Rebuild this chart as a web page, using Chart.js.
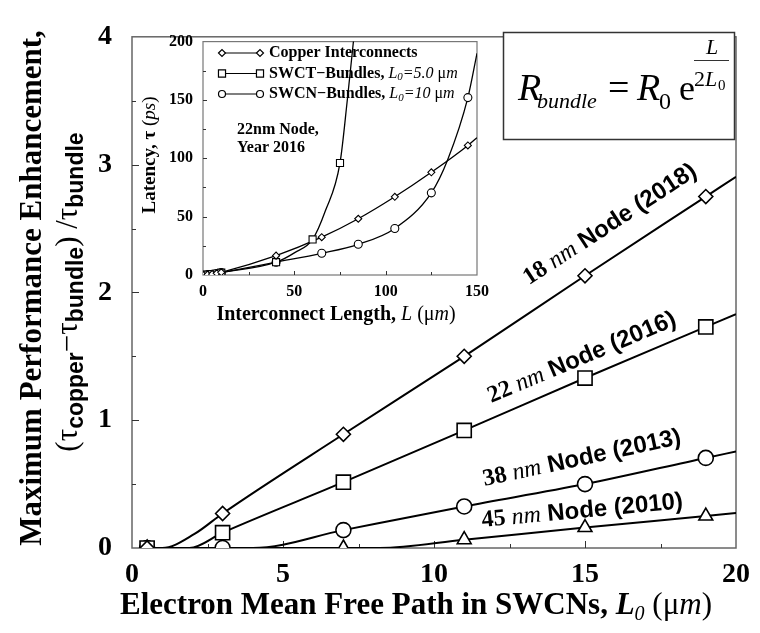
<!DOCTYPE html>
<html>
<head>
<meta charset="utf-8">
<script src="https://cdn.jsdelivr.net/npm/chart.js@4.4.0/dist/chart.umd.min.js"></script>
<style>
  body { margin: 0; background: #fff; }
  #wrap { position: relative; width: 760px; height: 633px; }
  #wrap canvas { position: absolute; }
</style>
</head>
<body>
<div id="wrap">
  <canvas id="mainChart" width="760" height="633" style="left:0;top:0"></canvas>
  <canvas id="insetChart" width="362" height="312" style="left:134px;top:22px"></canvas>
</div>
<script>
// ---- main plot: enhancement vs. mean free path ----
var meanFreePath = [0.5, 3, 7, 11, 15, 19];
var gain18 = [0, 0.27, 0.89, 1.50, 2.13, 2.75];
var gain22 = [0, 0.12, 0.515, 0.92, 1.33, 1.73];
var gain38 = [0, 0, 0.14, 0.325, 0.50, 0.705];
var gain45 = [0, 0, 0, 0.065, 0.16, 0.25];

// model curves traced through the points
var fit18 = [[0.5, 0], [1.0, 0], [2.07, 0.11], [3, 0.27], [7, 0.89], [11, 1.50], [15, 2.13], [19, 2.75], [20, 2.905]];
var fit22 = [[0.5, 0], [1.9, 0], [3, 0.12], [7, 0.515], [11, 0.92], [15, 1.33], [19, 1.73], [20, 1.83]];
var fit38 = [[0.5, 0], [4, 0], [7, 0.14], [11, 0.325], [15, 0.50], [19, 0.705], [20, 0.755]];
var fit45 = [[0.5, 0], [8.2, 0], [11, 0.065], [15, 0.16], [19, 0.25], [20, 0.273]];

var nodeSizes = ['18', '22', '38', '45'];
var nodeYears = ['2018', '2016', '2013', '2010'];
var nodeLabelAt = [[15.83, 2.53], [14.9, 1.488], [14.9, 0.70], [14.91, 0.288]];

var xTicks = [0, 5, 10, 15, 20];
var yTicks = [0, 1, 2, 3, 4];

// ---- inset: latency vs. interconnect length (22nm node) ----
var wireLen = [0, 2.5, 5, 7.5, 10, 40, 65, 85, 105, 125, 145];
var copperDelay = [0, 0.3, 0.8, 1.5, 2.3, 16.6, 32.4, 48.2, 67, 88, 111];
var swcnDelay = [0, 0.3, 0.7, 1.3, 2.0, 11, 18.6, 26.3, 39.9, 70.4, 152];
var swctLen = [0, 2.5, 5, 7.5, 10, 40, 60, 75];
var swctDelay = [0, 0.3, 0.7, 1.3, 2.0, 11, 30.5, 96];
var copperTail = [[150, 117.7]];
var swcnTail = [[134, 99], [150, 190]];
var swctTail = [[50, 19], [67, 55], [79, 150], [83, 210]];

var SERIF = "'Liberation Serif', 'Times New Roman', serif";
var SANS = "'Liberation Sans', Arial, sans-serif";
function f(style, size, family) { return style + ' ' + size + 'px ' + family; }

function toXY(xs, ys) {
    return xs.map(function(x, i) { return {x: x, y: ys[i]}; });
}
function pairs(list) {
    return list.map(function(p) { return {x: p[0], y: p[1]}; });
}
function curveOf(xs, ys, extra) {
    return toXY(xs, ys).concat(pairs(extra)).sort(function(a, b) { return a.x - b.x; });
}

// draw a row of differently styled text pieces: [text, font, dy]
function drawRuns(ctx, runs, x, y, align) {
    var w = 0;
    runs.forEach(function(r) { ctx.font = r[1]; w += ctx.measureText(r[0]).width; });
    var cx = align === 'left' ? x : x - w / 2;
    runs.forEach(function(r) {
        ctx.font = r[1];
        ctx.fillText(r[0], cx, y + (r[2] || 0));
        cx += ctx.measureText(r[0]).width;
    });
    return w;
}

// box round the plot area, ticks pointing inwards on bottom and left
function drawFrame(chart, o) {
    var ctx = chart.ctx, a = chart.chartArea, x = chart.scales.x, y = chart.scales.y;
    ctx.save();
    ctx.strokeStyle = o.color;
    ctx.lineWidth = o.width;
    ctx.strokeRect(a.left, a.top, a.right - a.left, a.bottom - a.top);
    ctx.lineWidth = 1;
    ctx.strokeStyle = '#333';
    var n = Math.round((x.max - x.min) / o.xMinor), i, v, p, len;
    for (i = 1; i < n; i++) {
        v = x.min + i * o.xMinor;
        p = Math.round(x.getPixelForValue(v)) + 0.5;
        len = (Math.abs(v / o.xMajor - Math.round(v / o.xMajor)) < 1e-6) ? o.major : o.minor;
        ctx.beginPath(); ctx.moveTo(p, a.bottom); ctx.lineTo(p, a.bottom - len); ctx.stroke();
    }
    n = Math.round((y.max - y.min) / o.yMinor);
    for (i = 1; i < n; i++) {
        v = y.min + i * o.yMinor;
        p = Math.round(y.getPixelForValue(v)) + 0.5;
        len = (Math.abs(v / o.yMajor - Math.round(v / o.yMajor)) < 1e-6) ? o.major : o.minor;
        ctx.beginPath(); ctx.moveTo(a.left, p); ctx.lineTo(a.left + len, p); ctx.stroke();
    }
    ctx.restore();
}

var mainDecor = {
    id: 'mainDecor',
    beforeDatasetsDraw: function(chart) {
        drawFrame(chart, {xMajor: 5, xMinor: 2.5, yMajor: 1, yMinor: 0.5, major: 7, minor: 4, color: '#666', width: 1.5});
    },
    afterDraw: function(chart) {
        var ctx = chart.ctx, sx = chart.scales.x, sy = chart.scales.y;
        ctx.save();
        ctx.fillStyle = '#000';
        ctx.textAlign = 'left';
        ctx.textBaseline = 'alphabetic';

        // x title
        drawRuns(ctx, [
            ['Electron Mean Free Path in SWCNs, ', f('bold', 31, SERIF)],
            ['L', f('italic bold', 31, SERIF)],
            ['0', f('italic', 20, SERIF), 6],
            [' (', f('normal', 31, SERIF)],
            ['\u03bc', f('normal', 31, SERIF)],
            ['m', f('italic', 31, SERIF)],
            [')', f('normal', 31, SERIF)]
        ], 416, 614);

        // y title, two lines
        ctx.save();
        ctx.translate(41, 288);
        ctx.rotate(-Math.PI / 2);
        drawRuns(ctx, [['Maximum Performance Enhancement,', f('bold', 31, SERIF)]], 0, 0);
        ctx.restore();
        ctx.save();
        ctx.translate(77, 292);
        ctx.rotate(-Math.PI / 2);
        drawRuns(ctx, [
            ['(\u03c4', f('normal', 31, SERIF)],
            ['copper', f('bold', 23, SANS), 6],
            ['\u2212\u03c4', f('normal', 31, SERIF)],
            ['bundle', f('bold', 23, SANS), 6],
            [') /\u03c4', f('normal', 31, SERIF)],
            ['bundle', f('bold', 23, SANS), 6]
        ], 0, 0);
        ctx.restore();

        // node labels along each curve
        var fits = [fit18, fit22, fit38, fit45];
        ctx.textBaseline = 'middle';
        nodeSizes.forEach(function(size, k) {
            var c = fits[k], p1 = c[c.length - 3], p2 = c[c.length - 1];
            var dx = sx.getPixelForValue(p2[0]) - sx.getPixelForValue(p1[0]);
            var dy = sy.getPixelForValue(p2[1]) - sy.getPixelForValue(p1[1]);
            ctx.save();
            ctx.translate(sx.getPixelForValue(nodeLabelAt[k][0]), sy.getPixelForValue(nodeLabelAt[k][1]));
            ctx.rotate(Math.atan2(dy, dx));
            drawRuns(ctx, [
                [size + ' ', f('bold', 24, SERIF)],
                ['nm', f('italic', 24, SERIF)],
                [' Node (' + nodeYears[k] + ')', f('bold', 24, SANS)]
            ], 0, 0);
            ctx.restore();
        });

        // resistance formula box
        ctx.textBaseline = 'alphabetic';
        ctx.fillStyle = '#fff';
        ctx.fillRect(503, 32, 231, 107);
        ctx.strokeStyle = '#333';
        ctx.lineWidth = 1.5;
        ctx.strokeRect(503.5, 32.5, 231, 107);
        ctx.fillStyle = '#000';
        ctx.font = f('italic', 38, SERIF); ctx.fillText('R', 518, 100);
        ctx.font = f('italic', 22, SERIF); ctx.fillText('bundle', 537, 108);
        ctx.font = f('normal', 38, SERIF); ctx.fillText('=', 608, 100);
        ctx.font = f('italic', 38, SERIF); ctx.fillText('R', 637, 100);
        ctx.font = f('normal', 24, SERIF); ctx.fillText('0', 659, 109);
        ctx.font = f('normal', 36, SERIF); ctx.fillText('e', 679, 100);
        ctx.textAlign = 'center';
        ctx.font = f('italic', 22, SERIF); ctx.fillText('L', 712, 54);
        ctx.textAlign = 'left';
        ctx.beginPath(); ctx.lineWidth = 1.2; ctx.moveTo(694, 60.5); ctx.lineTo(729, 60.5); ctx.stroke();
        ctx.font = f('normal', 22, SERIF); ctx.fillText('2', 694, 86);
        ctx.font = f('italic', 22, SERIF); ctx.fillText('L', 705, 86);
        ctx.font = f('normal', 15, SERIF); ctx.fillText('0', 718, 90);
        ctx.restore();
    }
};

function markers(xs, ys, style, r) {
    return {
        data: toXY(xs, ys), showLine: false, order: 0,
        pointStyle: style, pointRadius: r, pointBorderWidth: 1.6,
        pointBackgroundColor: '#fff', pointBorderColor: '#000'
    };
}
function curve(pts, w) {
    return {
        data: pts, showLine: true, order: 1, pointRadius: 0,
        borderColor: '#000', borderWidth: w, cubicInterpolationMode: 'monotone'
    };
}

var tickFont = {family: SERIF, size: 28, weight: 'bold'};
var mainChart = new Chart(document.getElementById('mainChart'), {
    type: 'scatter',
    data: {
        datasets: [
            curve(pairs(fit18), 2), curve(pairs(fit22), 2), curve(pairs(fit38), 2), curve(pairs(fit45), 2),
            markers(meanFreePath, gain18, 'rectRot', 7),
            markers(meanFreePath, gain22, 'rect', 10),
            markers(meanFreePath, gain38, 'circle', 7.5),
            markers(meanFreePath, gain45, 'triangle', 8)
        ]
    },
    options: {
        responsive: false,
        animation: false,
        layout: {padding: {left: 0, top: 21, right: 19, bottom: 0}},
        plugins: {legend: {display: false}, tooltip: {enabled: false}},
        scales: {
            x: {
                type: 'linear', min: 0, max: 20,
                afterBuildTicks: function(s) { s.ticks = xTicks.map(function(v) { return {value: v}; }); },
                ticks: {font: tickFont, color: '#000', padding: 10, maxRotation: 0},
                grid: {display: false, drawTicks: false}, border: {display: false},
                afterFit: function(s) { s.height = 85; }
            },
            y: {
                type: 'linear', min: 0, max: 4,
                afterBuildTicks: function(s) { s.ticks = yTicks.map(function(v) { return {value: v}; }); },
                ticks: {font: tickFont, color: '#000', padding: 20},
                grid: {display: false, drawTicks: false}, border: {display: false},
                afterFit: function(s) { s.width = 132; }
            }
        }
    },
    plugins: [mainDecor]
});

// ---- inset chart ----
var insetDecor = {
    id: 'insetDecor',
    beforeDatasetsDraw: function(chart) {
        drawFrame(chart, {xMajor: 50, xMinor: 25, yMajor: 50, yMinor: 25, major: 4, minor: 3, color: '#777', width: 1.2});
    },
    afterDraw: function(chart) {
        var ctx = chart.ctx, a = chart.chartArea;
        ctx.save();
        ctx.fillStyle = '#000';
        ctx.textAlign = 'left';
        ctx.textBaseline = 'alphabetic';
        drawRuns(ctx, [
            ['Interconnect Length, ', f('bold', 20, SERIF)],
            ['L', f('italic', 20, SERIF)],
            [' (', f('normal', 20, SERIF)],
            ['\u03bc', f('normal', 20, SERIF)],
            ['m', f('italic', 20, SERIF)],
            [')', f('normal', 20, SERIF)]
        ], (a.left + a.right) / 2 - 4, 298);

        ctx.save();
        ctx.translate(21, 133);
        ctx.rotate(-Math.PI / 2);
        drawRuns(ctx, [
            ['Latency, \u03c4 ', f('bold', 19, SERIF)],
            ['(', f('normal', 19, SERIF)],
            ['ps', f('italic', 19, SERIF)],
            [')', f('normal', 19, SERIF)]
        ], 0, 0);
        ctx.restore();

        // legend
        var rows = [
            {style: 'rectRot', r: 3.5, runs: [['Copper Interconnects', f('bold', 16, SERIF)]]},
            {style: 'rect', r: 5, runs: [['SWCT\u2212Bundles, ', f('bold', 16, SERIF)], ['L', f('italic', 16, SERIF)], ['0', f('italic', 11, SERIF), 4], ['=5.0 ', f('italic', 16, SERIF)], ['\u03bc', f('normal', 16, SERIF)], ['m', f('italic', 16, SERIF)]]},
            {style: 'circle', r: 3.5, runs: [['SWCN\u2212Bundles, ', f('bold', 16, SERIF)], ['L', f('italic', 16, SERIF)], ['0', f('italic', 11, SERIF), 4], ['=10 ', f('italic', 16, SERIF)], ['\u03bc', f('normal', 16, SERIF)], ['m', f('italic', 16, SERIF)]]}
        ];
        ctx.textBaseline = 'middle';
        rows.forEach(function(row, i) {
            var yy = 31 + i * 20.5;
            ctx.strokeStyle = '#000';
            ctx.lineWidth = 1.2;
            ctx.beginPath(); ctx.moveTo(88, yy); ctx.lineTo(126, yy); ctx.stroke();
            ctx.fillStyle = '#fff';
            Chart.helpers.drawPoint(ctx, {pointStyle: row.style, radius: row.r, borderWidth: 1.2}, 88, yy);
            Chart.helpers.drawPoint(ctx, {pointStyle: row.style, radius: row.r, borderWidth: 1.2}, 126, yy);
            ctx.fillStyle = '#000';
            drawRuns(ctx, row.runs, 135, yy, 'left');
        });
        ctx.font = f('bold', 16, SERIF);
        ctx.fillText('22nm Node,', 103, 108);
        ctx.fillText('Year 2016', 103, 126);
        ctx.restore();
    }
};

function smallMarkers(xs, ys, style, r) {
    return {
        data: toXY(xs, ys), showLine: false, order: 0,
        pointStyle: style, pointRadius: r, pointBorderWidth: 1.1,
        pointBackgroundColor: '#fff', pointBorderColor: '#000'
    };
}

var insetFont = {family: SERIF, size: 16, weight: 'bold'};
var insetChart = new Chart(document.getElementById('insetChart'), {
    type: 'scatter',
    data: {
        datasets: [
            curve(curveOf(wireLen, copperDelay, copperTail), 1.3),
            curve(curveOf(swctLen, swctDelay, swctTail), 1.3),
            curve(curveOf(wireLen, swcnDelay, swcnTail), 1.3),
            smallMarkers(wireLen, copperDelay, 'rectRot', 3.5),
            smallMarkers(swctLen, swctDelay, 'rect', 5),
            smallMarkers(wireLen, swcnDelay, 'circle', 4)
        ]
    },
    options: {
        responsive: false,
        animation: false,
        layout: {padding: {left: 0, top: 13, right: 14, bottom: 0}},
        plugins: {legend: {display: false}, tooltip: {enabled: false}},
        scales: {
            x: {
                type: 'linear', min: 0, max: 150,
                ticks: {stepSize: 50, font: insetFont, color: '#000', padding: 7, maxRotation: 0},
                grid: {display: false, drawTicks: false}, border: {display: false},
                afterFit: function(s) { s.height = 59; }
            },
            y: {
                type: 'linear', min: 0, max: 200,
                ticks: {stepSize: 50, font: insetFont, color: '#000', padding: 10},
                grid: {display: false, drawTicks: false}, border: {display: false},
                afterFit: function(s) { s.width = 69; }
            }
        }
    },
    plugins: [insetDecor]
});
</script>
</body>
</html>
